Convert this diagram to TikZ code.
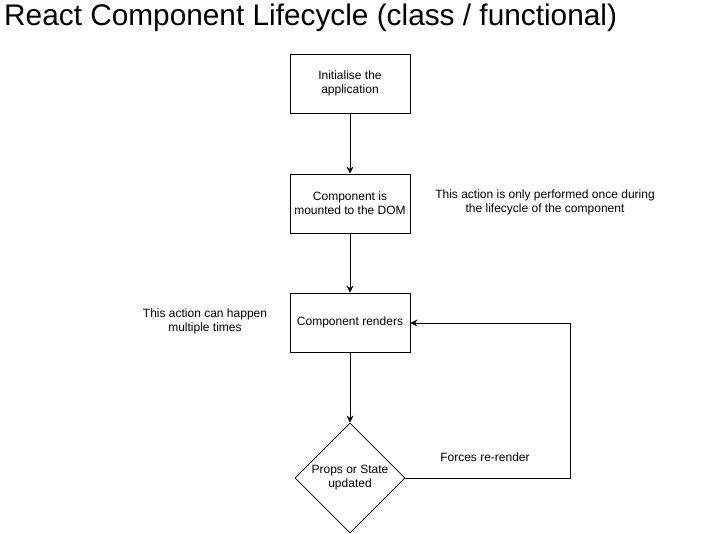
\documentclass[tikz,border=0pt]{standalone}
\usepackage{fontspec}
\setmainfont{Liberation Sans}
\usetikzlibrary{arrows.meta,shapes.geometric}
\begin{document}
\begin{tikzpicture}[x=1pt,y=-1pt,
  box/.style={draw,line width=0.8pt,minimum width=120pt,minimum height=59pt,align=center,font=\fontsize{12}{14}\selectfont,inner sep=0pt},
  dia/.style={draw,line width=0.8pt,diamond,minimum width=110pt,minimum height=110pt,aspect=1,inner sep=0pt,align=center,font=\fontsize{12}{14}\selectfont},
  lbl/.style={align=center,font=\fontsize{12}{14}\selectfont,inner sep=0pt},
  arr/.style={line width=0.8pt,-{Stealth[length=7pt,width=7pt]}}]
\useasboundingbox (0,0) rectangle (701,534);
\node[anchor=base west,inner sep=0pt,font=\fontsize{29.8}{32}\selectfont] (title) at (4,26) {React Component Lifecycle (class / functional)};
\node[box] (init) at (350,83.5) {Initialise the\\application};
\node[box] (mount) at (350,203.5) {Component is\\mounted to the DOM};
\node[box] (render) at (350,322.5) {Component renders};
\node[dia] (upd) at (350,478) {Props or State\\updated};
\coordinate (c1) at (570,478);
\coordinate (c2) at (570,323);
\node[lbl] (once) at (545,202) {This action is only performed once during\\the lifecycle of the component};
\node[lbl] (multi) at (205,321) {This action can happen\\multiple times};
\node[lbl] (forces) at (485,457) {Forces re-render};
\draw[arr] (init) -- (mount);
\draw[arr] (mount) -- (render);
\draw[arr] (render) -- (upd);
\draw[arr] (upd.east) -- (c1) -- (c2) -- (render.east |- c2);
\end{tikzpicture}
\end{document}
